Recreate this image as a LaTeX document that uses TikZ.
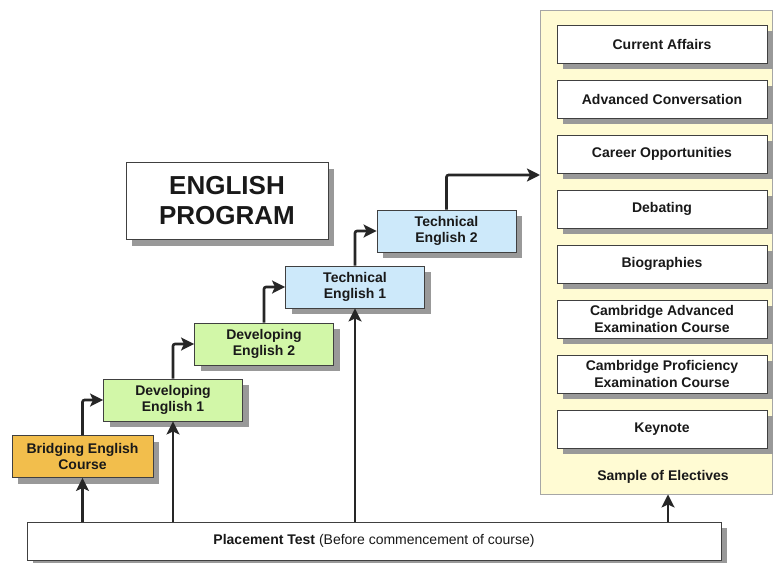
\documentclass[tikz,border=0pt]{standalone}
\usepackage{fontspec}
\setmainfont{Liberation Sans}
\usetikzlibrary{positioning, arrows.meta, shadows}
\definecolor{bridgeorange}{HTML}{F2BE4C}
\definecolor{devgreen}{HTML}{D2F7A8}
\definecolor{techblue}{HTML}{CDE9FA}
\definecolor{panelyellow}{HTML}{FFFBD3}
\tikzset{
box/.style={draw=black!75, line width=0.9pt, align=center, text=black!90, font=\bfseries\fontsize{14}{16.5}\selectfont, drop shadow={shadow xshift=6pt, shadow yshift=-6pt, fill=black!40, opacity=1}}, % boxes with grey shadow
stage/.style={box, minimum width=139pt, minimum height=42pt},
elective/.style={box, fill=white, minimum width=210pt, minimum height=38pt},
link/.style={-{Stealth[length=13pt, width=13pt, inset=3pt]}, line width=2.6pt, rounded corners=2pt, draw=black!85}, % thick black connectors
}

\begin{document}
\begin{tikzpicture}[x=1pt, y=-1pt]
    \useasboundingbox (0,0) rectangle (773,562);
    % electives panel
    \node[draw=black!35, line width=0.9pt, fill=panelyellow, minimum width=232pt, minimum height=484pt] (panel) at (656,252) {};
    \node[text=black!90, font=\bfseries\fontsize{14}{16.5}\selectfont] (sample) at (663,477) {Sample of Electives};
    \node[elective] (affairs) at (662,44) {Current Affairs};
    \node[elective, below=16.1pt of affairs] (conversation) {Advanced Conversation};
    \node[elective, below=16.1pt of conversation] (career) {Career Opportunities};
    \node[elective, below=16.1pt of career] (debating) {Debating};
    \node[elective, below=16.1pt of debating] (bio) {Biographies};
    \node[elective, below=16.1pt of bio] (cae) {Cambridge Advanced\\Examination Course};
    \node[elective, below=16.1pt of cae] (cpe) {Cambridge Proficiency\\Examination Course};
    \node[elective, below=16.1pt of cpe] (keynote) {Keynote};
    % title
    \node[box, fill=white, minimum width=202pt, minimum height=77pt, font=\bfseries\fontsize{26}{30}\selectfont] (title) at (227,201) {ENGLISH\\PROGRAM};
    % course steps
    \node[stage, fill=bridgeorange, minimum width=141pt] (bridge) at (82.5,456.5) {Bridging English\\Course};
    \node[stage, fill=devgreen] (dev1) at (173,400) {Developing\\English 1};
    \node[stage, fill=devgreen] (dev2) at (264,344) {Developing\\English 2};
    \node[stage, fill=techblue] (tech1) at (355,287) {Technical\\English 1};
    \node[stage, fill=techblue] (tech2) at (446.5,231) {Technical\\English 2};
    \node[box, fill=white, minimum width=694pt, minimum height=38pt, font=\fontsize{14}{16.5}\selectfont] (place) at (374,541) {\textbf{Placement Test} (Before commencement of course)};
    \coordinate (entry) at (540,175);
    \coordinate (toelect) at (668,522);
    \draw[link] (bridge.north) |- (dev1.west);
    \draw[link] (dev1.north) |- (dev2.west);
    \draw[link] (dev2.north) |- (tech1.west);
    \draw[link] (tech1.north) |- (tech2.west);
    \draw[link] (tech2.north) |- (entry);
    \draw[link] (place.north -| bridge.south) -- (bridge.south);
    \draw[link] (place.north -| dev1.south) -- (dev1.south);
    \draw[link] (place.north -| tech1.south) -- (tech1.south);
    \draw[link] (toelect) -- (toelect |- panel.south);
\end{tikzpicture}
\end{document}
